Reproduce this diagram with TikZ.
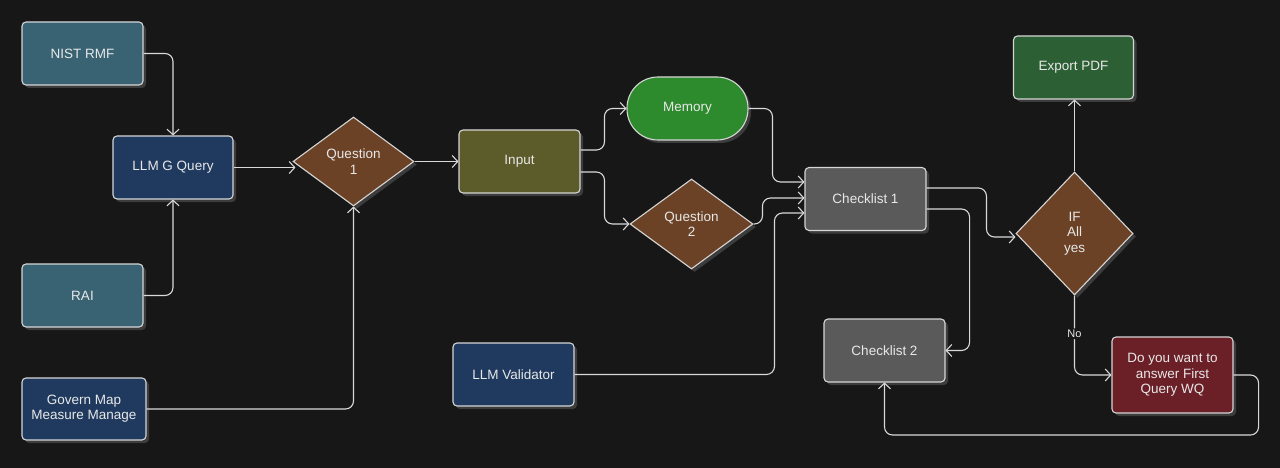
\documentclass[tikz,border=0pt]{standalone}
\usepackage{fontspec}
\setmainfont{Liberation Sans}
\usetikzlibrary{arrows.meta,shapes.geometric,shadows}
\definecolor{bg}{HTML}{171717}
\definecolor{tealA}{HTML}{396372}
\definecolor{navyA}{HTML}{1F3A5E}
\definecolor{brownA}{HTML}{6B4226}
\definecolor{oliveA}{HTML}{5C5B2A}
\definecolor{greenA}{HTML}{2D8A2D}
\definecolor{grayA}{HTML}{5A5A5A}
\definecolor{greenB}{HTML}{2C5F34}
\definecolor{redA}{HTML}{6B1F27}
\definecolor{bd}{HTML}{D6D6D6}
\definecolor{lnc}{HTML}{D9D9D9}
\definecolor{tx}{HTML}{E8E8E8}
\definecolor{shd}{HTML}{3C3C3C}
\tikzset{
  shad/.style={drop shadow={shadow xshift=3pt,shadow yshift=-3pt,fill=shd,opacity=1}},
  box/.style={rectangle, rounded corners=4pt, draw=bd, line width=1.1pt, text=tx,
    minimum width=121pt, minimum height=63pt, inner sep=2pt, align=center, shad},
  dia/.style={diamond, aspect=1.3, draw=bd, line width=1.1pt, text=tx, inner sep=0pt,
    align=center, shad},
  ln/.style={draw=lnc, line width=1.1pt, rounded corners=8pt,
    -{Straight Barb[length=5.5pt,width=12pt]}},
  lbl/.style={fill=bg, text=tx, font=\fontsize{11}{13}\selectfont, inner sep=1.5pt}
}
\begin{document}
\begin{tikzpicture}[x=1pt,y=-1pt,font=\fontsize{13.5}{15.3}\selectfont]
\fill[bg] (0,0) rectangle (1280,468);
\useasboundingbox (0,0) rectangle (1280,468);

\node[box, fill=tealA] (nist) at (82.5,53.5) {NIST RMF};
\node[box, fill=navyA, minimum width=120pt] (llmg) at (173,167.5) {LLM G Query};
\node[box, fill=tealA] (rai) at (82.5,295.5) {RAI};
\node[box, fill=navyA, minimum width=124pt, minimum height=62pt] (gov) at (84,409) {Govern Map\\Measure Manage};
\node[dia, fill=brownA, minimum width=121pt, minimum height=89pt] (q1) at (353.5,161.5) {Question\\1};
\node[box, fill=oliveA] (inp) at (519.5,161.5) {Input};
\node[box, fill=greenA, rounded corners=31pt] (mem) at (687.5,108.5) {Memory};
\node[dia, fill=brownA, minimum width=123pt, minimum height=90pt] (q2) at (691.5,224) {Question\\2};
\node[box, fill=grayA] (c1) at (865.5,199) {Checklist 1};
\node[box, fill=grayA] (c2) at (884.5,350.5) {Checklist 2};
\node[box, fill=greenB, minimum width=120pt] (pdf) at (1073.5,67.5) {Export PDF};
\node[dia, fill=brownA, aspect=1, minimum width=117pt, minimum height=123pt] (ifa) at (1074.5,233.5) {IF\\All\\yes};
\node[box, fill=redA, minimum height=76pt] (ask) at (1172.5,375) {Do you want to\\answer First\\Query WQ};
\node[box, fill=navyA] (val) at (513.5,374.5) {LLM Validator};

\draw[ln] (nist.east) -| (llmg.north);
\draw[ln] (rai.east) -| (llmg.south);
\draw[ln] (llmg.east) -- ([xshift=3pt]llmg.east -| q1.west);
\draw[ln] (gov.east) -| (q1.south);
\draw[ln] (q1.east) -- (inp.west);
\draw[ln] ([yshift=11.5pt]inp.east) -- ([xshift=-22pt,yshift=11.5pt]inp.east -| mem.west) |- (mem.west);
\draw[ln] ([yshift=-10.5pt]inp.east) -- ([xshift=-25pt,yshift=-10.5pt]inp.east -| q2.west) |- (q2.west);
\draw[ln] (mem.east) -- ([xshift=-32pt]mem.east -| c1.west) |- ([yshift=17pt]c1.west);
\draw[ln] (q2.east) -- ([xshift=-42pt]q2.east -| c1.west) |- ([yshift=1pt]c1.west);
\draw[ln] (val.east) -| ([xshift=-30pt,yshift=-14pt]c1.west) -- ([yshift=-14pt]c1.west);
\draw[ln] ([yshift=11pt]c1.east) -- ([xshift=-29pt,yshift=11pt]c1.east -| ifa.west) |- ([yshift=-3.5pt]ifa.west);
\draw[ln] ([yshift=-10pt]c1.east) -- ([xshift=24pt,yshift=-10pt]c1.east -| c2.east) |- (c2.east);
\draw[ln] (ifa.north) -- (ifa.north |- pdf.south);
\draw[ln] (ifa.south) |- node[lbl, pos=0.24] {No} (ask.west);
\draw[ln] (ask.east) -- ([xshift=25pt]ask.east) -- ([xshift=25pt]ask.east |- 0,435) -| (c2.south);
\end{tikzpicture}
\end{document}
